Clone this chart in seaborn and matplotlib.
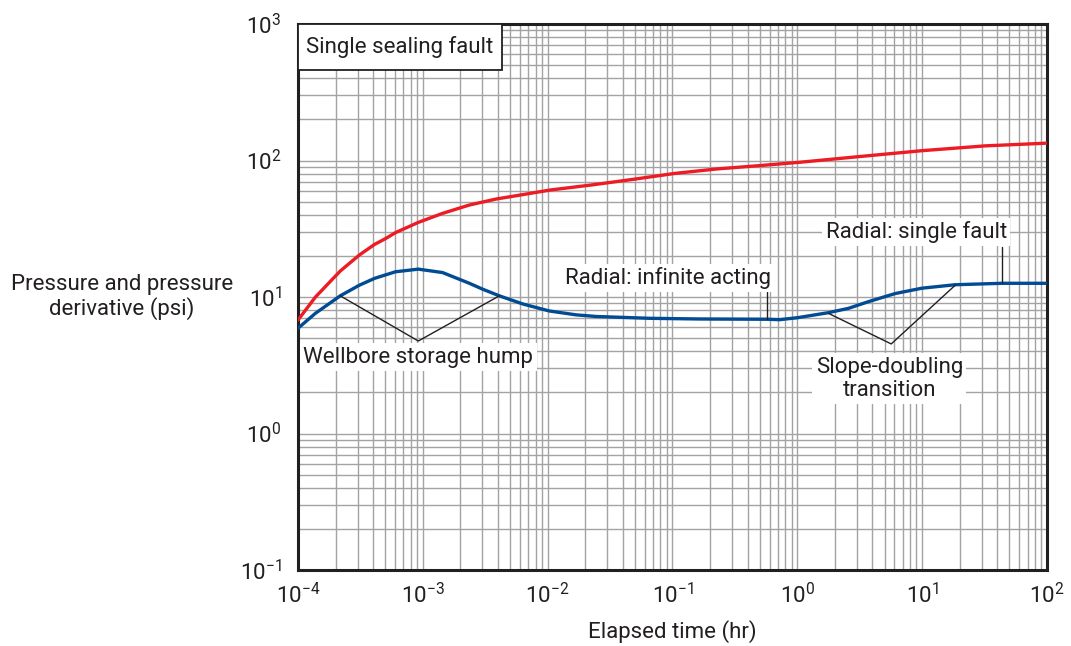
import matplotlib
matplotlib.use("Agg")
import matplotlib.pyplot as plt
from matplotlib.patches import Rectangle
from matplotlib.ticker import LogLocator, FixedLocator, NullFormatter
import numpy as np
import pandas as pd
import seaborn as sns

# Pressure change (psi) vs elapsed time (hr)
pressure_time = [1.0e-4, 1.38e-4, 2.18e-4, 3.10e-4, 4.11e-4, 5.07e-4, 6.03e-4, 8.04e-4,
                 9.2e-4, 1.44e-3, 2.36e-3, 3.86e-3, 6.0e-3, 1.05e-2, 2.25e-2, 4.86e-2,
                 0.105, 0.226, 0.488, 1.05, 3.09, 9.95, 32.0, 100.0]
pressure_psi = [6.78, 10.0, 15.5, 20.3, 24.3, 26.9, 29.6, 33.3,
                35.2, 41.0, 47.2, 52.2, 55.8, 60.8, 66.2, 72.8,
                80.5, 86.7, 91.6, 97.1, 106.7, 118.0, 128.0, 134.0]

# Pressure derivative (psi) vs elapsed time (hr)
deriv_time = [1.0e-4, 1.38e-4, 2.18e-4, 3.10e-4, 4.11e-4, 6.03e-4, 9.2e-4, 1.44e-3,
              2.36e-3, 3.02e-3, 4.1e-3, 6.3e-3, 1.03e-2, 1.69e-2, 2.44e-2, 6.6e-2,
              0.166, 0.57, 0.72, 1.0, 1.78, 2.57, 3.72, 6.08, 9.95, 18.4, 43.5, 100.0]
deriv_psi = [5.9, 7.6, 10.2, 12.2, 13.7, 15.3, 16.0, 15.1,
             12.6, 11.4, 10.2, 8.9, 7.9, 7.4, 7.2, 6.98,
             6.9, 6.87, 6.82, 7.05, 7.68, 8.26, 9.25, 10.6, 11.6, 12.3, 12.6, 12.6]

x_ticks = [1e-4, 1e-3, 1e-2, 1e-1, 1e0, 1e1, 1e2]
x_tick_labels = ["10^{-4}", "10^{-3}", "10^{-2}", "10^{-1}", "10^{0}", "10^{1}", "10^{2}"]
y_ticks = [1e-1, 1e0, 1e1, 1e2, 1e3]
y_tick_labels = ["10^{-1}", "10^{0}", "10^{1}", "10^{2}", "10^{3}"]

# Annotation anchors (time, psi)
hump_leader = [(2.18e-4, 10.2), (9.2e-4, 4.76), (4.1e-3, 10.2)]
hump_label = (9.2e-4, 3.63)
slope_leader = [(1.77, 7.6), (5.65, 4.53), (18.4, 12.2)]
slope_label = (5.45, 2.51)
infinite_leader = [(0.573, 10.9), (0.573, 6.87)]
infinite_label = (0.092, 13.8)
fault_leader = [(43.6, 23.2), (43.6, 12.6)]
fault_label = (8.95, 29.9)

df = pd.concat([
    pd.DataFrame({"time": pressure_time, "psi": pressure_psi, "series": "Pressure"}),
    pd.DataFrame({"time": deriv_time, "psi": deriv_psi, "series": "Derivative"}),
])

sns.set_theme(style="white")
plt.rcParams["font.family"] = ["Roboto", "DejaVu Sans"]
plt.rcParams["mathtext.fontset"] = "custom"
plt.rcParams["mathtext.rm"] = "Roboto"
plt.rcParams["mathtext.default"] = "regular"

text_color = "#231f20"
fs = 16

fig = plt.figure(figsize=(10.71, 6.46), dpi=100)
ax = fig.add_axes([298 / 1071, 1 - 570 / 646, 749 / 1071, 546 / 646])

sns.lineplot(data=df, x="time", y="psi", hue="series",
             palette={"Pressure": "#ed1c24", "Derivative": "#004b93"},
             estimator=None, sort=True, linewidth=2.4, legend=False, ax=ax, zorder=3)

ax.set_xscale("log")
ax.set_yscale("log")
ax.set_xlim(1e-4, 1e2)
ax.set_ylim(1e-1, 1e3)

ax.xaxis.set_major_locator(FixedLocator(x_ticks))
ax.yaxis.set_major_locator(FixedLocator(y_ticks))
ax.set_xticklabels([f"${t}$" for t in x_tick_labels])
ax.set_yticklabels([f"${t}$" for t in y_tick_labels])
ax.xaxis.set_minor_locator(LogLocator(base=10, subs=np.arange(2, 10), numticks=20))
ax.yaxis.set_minor_locator(LogLocator(base=10, subs=np.arange(2, 10), numticks=20))
ax.xaxis.set_minor_formatter(NullFormatter())
ax.yaxis.set_minor_formatter(NullFormatter())
ax.tick_params(which="both", length=0, labelsize=fs, colors=text_color)
ax.tick_params(axis="x", pad=9)
ax.tick_params(axis="y", pad=12)

ax.grid(True, which="both", color="#a3a3a3", linewidth=1.0)
ax.set_axisbelow(True)
for side in ax.spines.values():
    side.set_visible(True)
    side.set_color("#231f20")
    side.set_linewidth(2.2)

ax.set_xlabel("Elapsed time (hr)", fontsize=fs, color=text_color, va="center")
ax.xaxis.set_label_coords(0.5, -0.112)
ax.set_ylabel("Pressure and pressure\nderivative (psi)", fontsize=fs, color=text_color,
              rotation=0, ha="center", va="center", linespacing=1.1)
ax.yaxis.set_label_coords(-0.235, 0.5)

# Title box in the upper-left corner
ax.add_patch(Rectangle((0, 1 - 46 / 546), 204 / 749, 46 / 546, transform=ax.transAxes,
                       facecolor="white", edgecolor="#231f20", linewidth=1.3, zorder=5))
ax.text(102 / 749, 1 - 23 / 546, "Single sealing fault", transform=ax.transAxes,
        ha="center", va="center", fontsize=fs, color=text_color, zorder=6)

box = dict(boxstyle="square,pad=0.15", facecolor="white", edgecolor="none")
leader_kw = dict(color="#231f20", linewidth=1.0, zorder=4)

for pts in (hump_leader, slope_leader, infinite_leader, fault_leader):
    xs, ys = zip(*pts)
    ax.plot(xs, ys, **leader_kw)

ax.text(*hump_label, "Wellbore storage hump", ha="center", va="center",
        fontsize=fs, color=text_color, bbox=box, zorder=5)
ax.text(*slope_label, "Slope-doubling\ntransition", ha="center", va="center",
        fontsize=fs, color=text_color, bbox=box, zorder=5, linespacing=1.15)
ax.text(*infinite_label, "Radial: infinite acting", ha="center", va="center",
        fontsize=fs, color=text_color, bbox=box, zorder=5)
ax.text(*fault_label, "Radial: single fault", ha="center", va="center",
        fontsize=fs, color=text_color, bbox=box, zorder=5)

fig.savefig("out.png", dpi=100, facecolor="white")
